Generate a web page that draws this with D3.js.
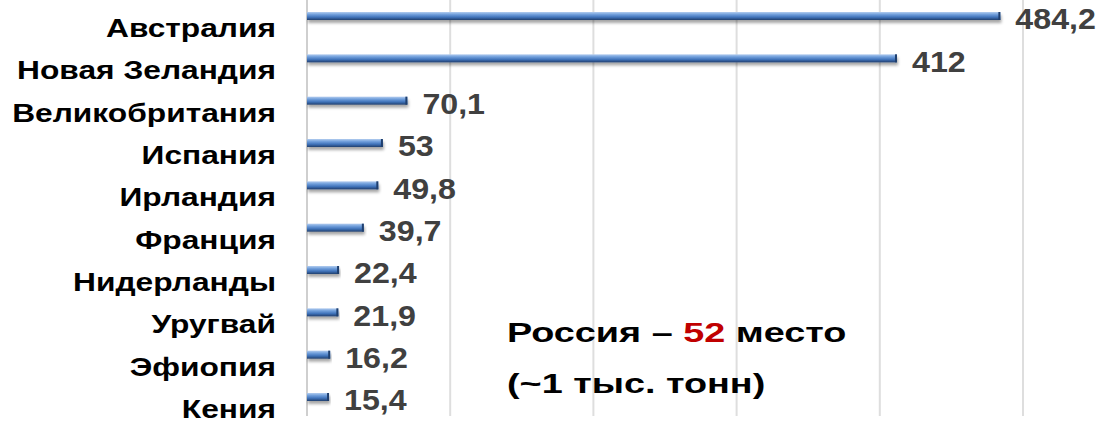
<!DOCTYPE html>
<html>
<head>
<meta charset="utf-8">
<script src="https://cdn.jsdelivr.net/npm/d3@7"></script>
<style>
  body { margin: 0; background: #fff; font-family: "Liberation Sans", Arial, sans-serif; }
</style>
</head>
<body>
<script>
var countries = ["Австралия", "Новая Зеландия", "Великобритания", "Испания", "Ирландия",
                 "Франция", "Нидерланды", "Уругвай", "Эфиопия", "Кения"];
var values = [484.2, 412, 70.1, 53, 49.8, 39.7, 22.4, 21.9, 16.2, 15.4];
var valueLabels = ["484,2", "412", "70,1", "53", "49,8", "39,7", "22,4", "21,9", "16,2", "15,4"];
var gridTicks = [0, 100, 200, 300, 400, 500];

var width = 1102, height = 421;

// the source picture is stretched horizontally, so texts get a scaleX
var catStretch = 1.22, valStretch = 1.11, noteStretch = 1.35;

var svg = d3.select("body").append("svg")
    .attr("width", width)
    .attr("height", height);

var defs = svg.append("defs");
var grad = defs.append("linearGradient")
    .attr("id", "barGrad")
    .attr("x1", 0).attr("y1", 0).attr("x2", 0).attr("y2", 1);
grad.append("stop").attr("offset", "0%").attr("stop-color", "#b3cdef");
grad.append("stop").attr("offset", "30%").attr("stop-color", "#72a0dc");
grad.append("stop").attr("offset", "65%").attr("stop-color", "#4073ba");
grad.append("stop").attr("offset", "100%").attr("stop-color", "#1f3f6e");

var shadow = defs.append("filter").attr("id", "shadow")
    .attr("x", "-5%").attr("y", "-50%").attr("width", "110%").attr("height", "250%");
shadow.append("feGaussianBlur").attr("in", "SourceAlpha").attr("stdDeviation", 1.5);
shadow.append("feOffset").attr("dx", 1).attr("dy", 3).attr("result", "off");
shadow.append("feComponentTransfer").append("feFuncA").attr("type", "linear").attr("slope", 0.35);
var merge = shadow.append("feMerge");
merge.append("feMergeNode");
merge.append("feMergeNode").attr("in", "SourceGraphic");

var x = d3.scaleLinear().domain([0, 500]).range([307, 1023]);
var y = d3.scalePoint().domain(countries).range([16, 397]);

// gridlines
svg.selectAll(".grid")
    .data(gridTicks)
  .enter().append("line")
    .attr("class", "grid")
    .attr("x1", function(d){ return x(d); })
    .attr("x2", function(d){ return x(d); })
    .attr("y1", 0)
    .attr("y2", 416)
    .style("stroke", function(d){ return d === 0 ? "#cfcfcf" : "#dedede"; })
    .style("stroke-width", 2);

var barH = 8;
var rows = svg.selectAll(".row")
    .data(countries)
  .enter().append("g")
    .attr("class", "row");

rows.append("rect")
    .attr("x", x(0))
    .attr("y", function(d){ return y(d) - barH/2; })
    .attr("width", function(d,i){ return x(values[i]) - x(0); })
    .attr("height", barH)
    .style("fill", "url(#barGrad)")
    .style("filter", "url(#shadow)");

// darker right end cap
rows.append("rect")
    .attr("x", function(d,i){ return x(values[i]) - 2; })
    .attr("y", function(d){ return y(d) - barH/2; })
    .attr("width", 2)
    .attr("height", barH)
    .style("fill", "#1f3f6e");

// category labels
rows.append("text")
    .attr("transform", function(d){
      return "translate(276," + (y(d) + 12) + ")scale(" + catStretch + ",1)";
    })
    .attr("text-anchor", "end")
    .attr("dominant-baseline", "central")
    .style("font-size", "26px")
    .style("font-weight", "bold")
    .style("fill", "#000")
    .text(String);

// value labels
rows.append("text")
    .attr("transform", function(d,i){
      return "translate(" + (x(values[i]) + 15) + "," + (y(d) + 3) + ")scale(" + valStretch + ",1)";
    })
    .attr("dominant-baseline", "central")
    .style("font-size", "29px")
    .style("font-weight", "bold")
    .style("fill", "#404040")
    .text(function(d,i){ return valueLabels[i]; });

// annotation
var note = svg.append("text")
    .attr("transform", "translate(507,342)scale(" + noteStretch + ",1)")
    .style("font-size", "28px")
    .style("font-weight", "bold")
    .style("fill", "#000");
note.append("tspan").text("Россия – ");
note.append("tspan").style("fill", "#c00000").text("52");
note.append("tspan").text(" место");

svg.append("text")
    .attr("transform", "translate(507,393)scale(" + noteStretch + ",1)")
    .style("font-size", "28px")
    .style("font-weight", "bold")
    .style("fill", "#000")
    .text("(~1 тыс. тонн)");
</script>
</body>
</html>
